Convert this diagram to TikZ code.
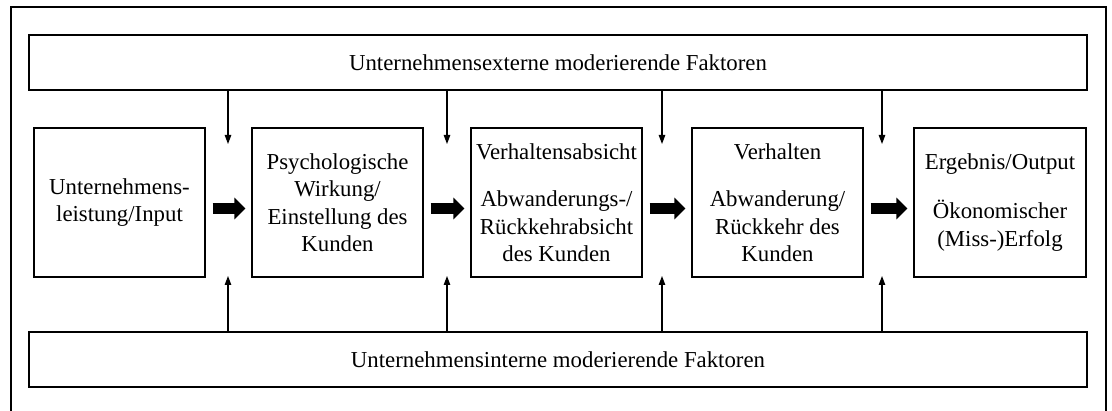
\documentclass[tikz,border=0pt]{standalone}
\usepackage{fontspec}
\setmainfont{Liberation Serif}
\usetikzlibrary{arrows.meta}
\begin{document}
\begin{tikzpicture}[x=1pt,y=-1pt,
  font=\fontsize{22.8}{27.5}\selectfont,
  stage/.style={draw,line width=1.1pt,rectangle,align=center,inner sep=0pt,
    minimum width=171pt,minimum height=149pt},
  factor/.style={draw,line width=1.1pt,rectangle,align=center,inner sep=0pt,
    minimum width=1058pt,minimum height=55pt},
  thinarrow/.style={line width=1.1pt,-{Triangle[length=9pt,width=6.5pt]}},
  flowarrow/.style={line width=10.5pt,-{Triangle[length=11pt,width=21pt]},
    shorten <=7pt,shorten >=6pt}]
\useasboundingbox (0,0) rectangle (1112,411);
% open frame around the whole model
\draw[line width=2.2pt] (11,411) -- (11,7) -- (1106,7) -- (1106,411);

% moderating factors
\node[factor] (ext) at (558,62.5) {Unternehmensexterne moderierende Faktoren};
\node[factor] (int) at (558,359.5) {Unternehmensinterne moderierende Faktoren};

% chain of stages
\node[stage] (s1) at (119.5,202.5) {Unternehmens-\\leistung/Input};
\node[stage] (s2) at (337.5,202.5) {Psychologische\\Wirkung/\\Einstellung des\\Kunden};
\node[stage] (s3) at (556.5,202.5) {Verhaltensabsicht\\[20pt]Abwanderungs-/\\Rückkehrabsicht\\des Kunden};
\node[stage] (s4) at (777.5,202.5) {Verhalten\\[20pt]Abwanderung/\\Rückkehr des\\Kunden};
\node[stage,minimum width=172pt] (s5) at (1000,202.5) {Ergebnis/Output\\[22pt]Ökonomischer\\(Miss-)Erfolg};

% block arrows between stages
\foreach \a/\b in {s1/s2,s2/s3,s3/s4,s4/s5}
  \draw[flowarrow] ([yshift=-6pt]\a.east) -- ([yshift=-6pt]\b.west);

% influence of the moderating factors
\foreach \i/\x in {1/228,2/447,3/662,4/882}{
  \coordinate (d\i) at (\x,144);
  \coordinate (u\i) at (\x,276);
  \draw[thinarrow] (ext.south -| d\i) -- (d\i);
  \draw[thinarrow] (int.north -| u\i) -- (u\i);
}
\end{tikzpicture}
\end{document}
